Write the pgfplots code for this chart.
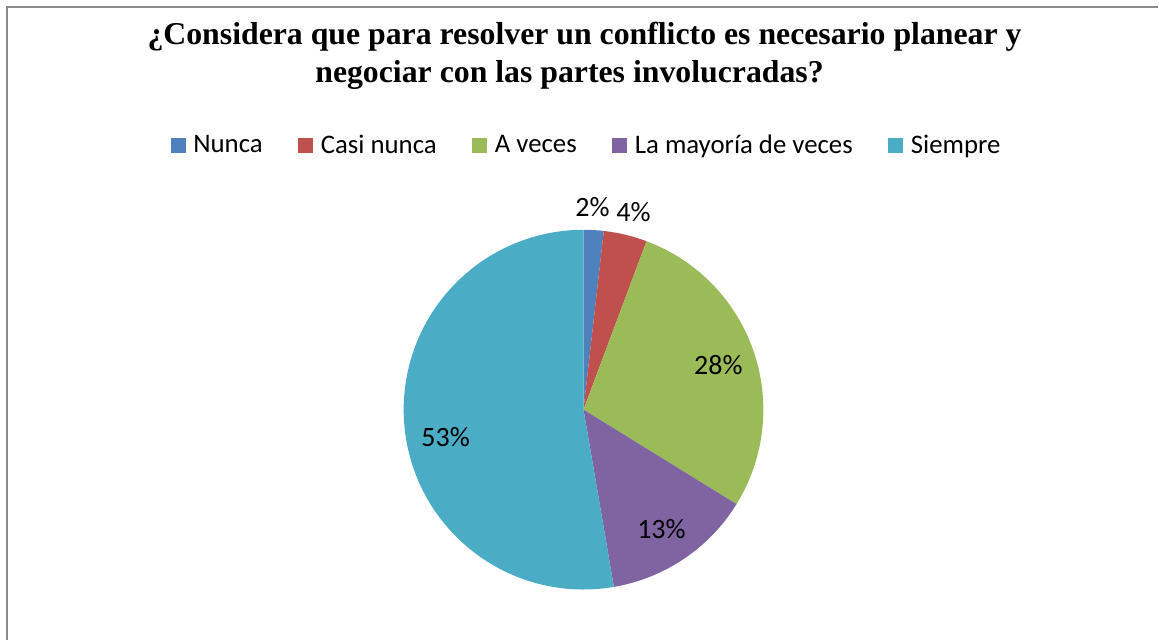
\documentclass[border=0pt]{standalone}
\usepackage{pgfplots}
\pgfplotsset{compat=1.18}
\usepackage{pgfplotstable}
\usepackage{fontspec}
\setmainfont{Liberation Serif}
\newfontfamily\carlito{Carlito}

\definecolor{pie0}{HTML}{4F81BD}
\definecolor{pie1}{HTML}{C0504D}
\definecolor{pie2}{HTML}{9BBB59}
\definecolor{pie3}{HTML}{8064A2}
\definecolor{pie4}{HTML}{4BACC6}
\definecolor{framegray}{HTML}{898989}

% respuestas, en porcentaje
\pgfplotstableread{
label value
Nunca 1.8
Casi-nunca 3.9
A-veces 28.1
Mayoria 13.5
Siempre 52.7
}\piedata

\begin{document}
\begin{tikzpicture}
% angulos de cada sector (desde arriba, sentido horario)
\xdef\cum{0}
\foreach \i in {0,...,4}{
  \pgfplotstablegetelem{\i}{value}\of\piedata
  \pgfmathsetmacro\s{90-3.6*\cum}
  \pgfmathsetmacro\newcum{\cum+\pgfplotsretval}
  \pgfmathsetmacro\e{90-3.6*\newcum}
  \xdef\cum{\newcum}
  \expandafter\xdef\csname ps\i\endcsname{\s}
  \expandafter\xdef\csname pe\i\endcsname{\e}
}
\begin{axis}[
  x=0.5pt, y=0.5pt,
  xmin=0, xmax=1159, ymin=0, ymax=641,
  axis lines=none, xtick=\empty, ytick=\empty,
  clip=false,
  legend columns=-1,
  legend image code/.code={\fill[#1] (0pt,-3.5pt) rectangle (7pt,3.5pt);},
  legend style={at={(axis cs:586,495)}, anchor=center, draw=none, fill=none,
    font=\carlito\fontsize{13.4}{15}\selectfont,
    nodes={inner sep=0pt},
    /tikz/every odd column/.append style={column sep=4pt},
    /tikz/every even column/.append style={column sep=17.7pt}},
]
\path (axis cs:0,0) rectangle (axis cs:1159,641);
\draw[framegray, line width=1pt] (axis cs:7,0) -- (axis cs:7,634) -- (axis cs:1159,634);

\pgfplotsinvokeforeach{0,...,4}{
  \fill[pie#1] (axis cs:584,231) -- ++(\csname ps#1\endcsname:90pt)
    arc[start angle=\csname ps#1\endcsname, end angle=\csname pe#1\endcsname, radius=90pt] -- cycle;
}

\addlegendimage{pie0}\addlegendentry{Nunca}
\addlegendimage{pie1}\addlegendentry{Casi nunca}
\addlegendimage{pie2}\addlegendentry{A veces}
\addlegendimage{pie3}\addlegendentry{La mayoría de veces}
\addlegendimage{pie4}\addlegendentry{Siempre}

\node[font=\bfseries\fontsize{15.9}{18}\selectfont, anchor=base] at (axis cs:585,596)
  {¿Considera que para resolver un conflicto es necesario planear y};
\node[font=\bfseries\fontsize{15.9}{18}\selectfont, anchor=base] at (axis cs:570,558)
  {negociar con las partes involucradas?};

\begin{scope}[every node/.style={font=\carlito\fontsize{14}{16}\selectfont, text=black, inner sep=0pt}]
\node at (axis cs:593,434) {2\%};
\node at (axis cs:634,429) {4\%};
\node at (axis cs:719,276) {28\%};
\node at (axis cs:662,111) {13\%};
\node at (axis cs:446,204) {53\%};
\end{scope}
\end{axis}
\end{tikzpicture}
\end{document}
